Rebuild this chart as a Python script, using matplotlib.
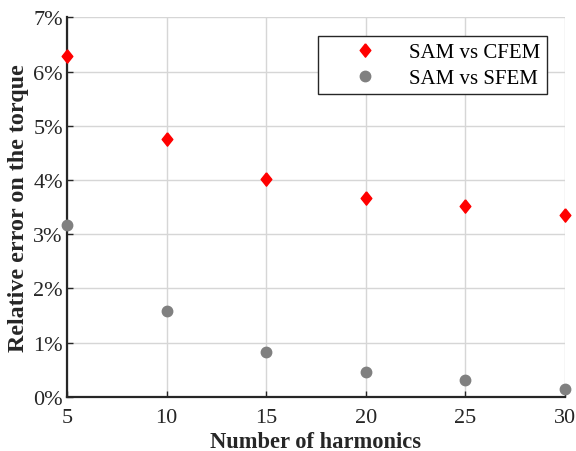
import matplotlib
matplotlib.use("Agg")
import matplotlib.pyplot as plt
from matplotlib.ticker import FuncFormatter

harmonics = [5, 10, 15, 20, 25, 30]
err_cfem = [6.29, 4.75, 4.01, 3.66, 3.51, 3.36]
err_sfem = [3.17, 1.58, 0.83, 0.45, 0.30, 0.15]
x_ticks = [5, 10, 15, 20, 25, 30]
y_ticks = [0, 1, 2, 3, 4, 5, 6, 7]
label_cfem = "SAM vs CFEM"
label_sfem = "SAM vs SFEM"
xlabel = "Number of harmonics"
ylabel = "Relative error on the torque"

plt.rcParams['font.family'] = ['Liberation Serif', 'DejaVu Serif']

diamond = [(0, 1), (0.8, 0), (0, -1), (-0.8, 0), (0, 1)]

fig = plt.figure(figsize=(5.76, 4.52), dpi=100)
ax = fig.add_axes([0.1163, 0.120, 0.8646, 0.8395])

ax.plot(harmonics, err_cfem, linestyle='none', marker=diamond, color='#ff0000',
        markersize=9.6, label=label_cfem, clip_on=False, zorder=5)
ax.plot(harmonics, err_sfem, linestyle='none', marker='o', color='#808080',
        markersize=7.5, label=label_sfem, clip_on=False, zorder=5)

ax.set_xlim(5, 30)
ax.set_ylim(0, 7)
ax.set_xticks(x_ticks)
ax.set_yticks(y_ticks)
ax.yaxis.set_major_formatter(FuncFormatter(lambda v, p: f"{int(v)}%"))

ax.grid(True, color='#d6d6d6', linewidth=1.0)
ax.set_axisbelow(True)
for s in ['top', 'right']:
    ax.spines[s].set_visible(False)
for s in ['left', 'bottom']:
    ax.spines[s].set_linewidth(1.6)
    ax.spines[s].set_color('#262626')

ax.tick_params(axis='both', direction='in', length=4, width=1, colors='#262626',
               labelsize=16)
ax.tick_params(axis='x', pad=8)
ax.tick_params(axis='y', pad=3)

xl = ax.set_xlabel(xlabel, fontsize=16, fontweight='bold', color='#262626', labelpad=3)
yl = ax.set_ylabel(ylabel, fontsize=15, fontweight='bold', color='#262626', labelpad=3)

leg = ax.legend(loc='upper right', bbox_to_anchor=(0.963, 0.95), fontsize=15,
                frameon=True, fancybox=False, framealpha=1, edgecolor='#262626',
                handlelength=3.9, handletextpad=0.15, borderpad=0.3,
                labelspacing=0.3, borderaxespad=0)
leg.get_frame().set_linewidth(1.0)

# fit label sizes to the reference text extents (pixels)
fig.canvas.draw()
r = fig.canvas.get_renderer()
h = yl.get_window_extent(r).height
yl.set_fontsize(15 * 288.0 / h)
w = xl.get_window_extent(r).width
xl.set_fontsize(16 * 212.0 / w)

fig.savefig("out.png", dpi=100)
